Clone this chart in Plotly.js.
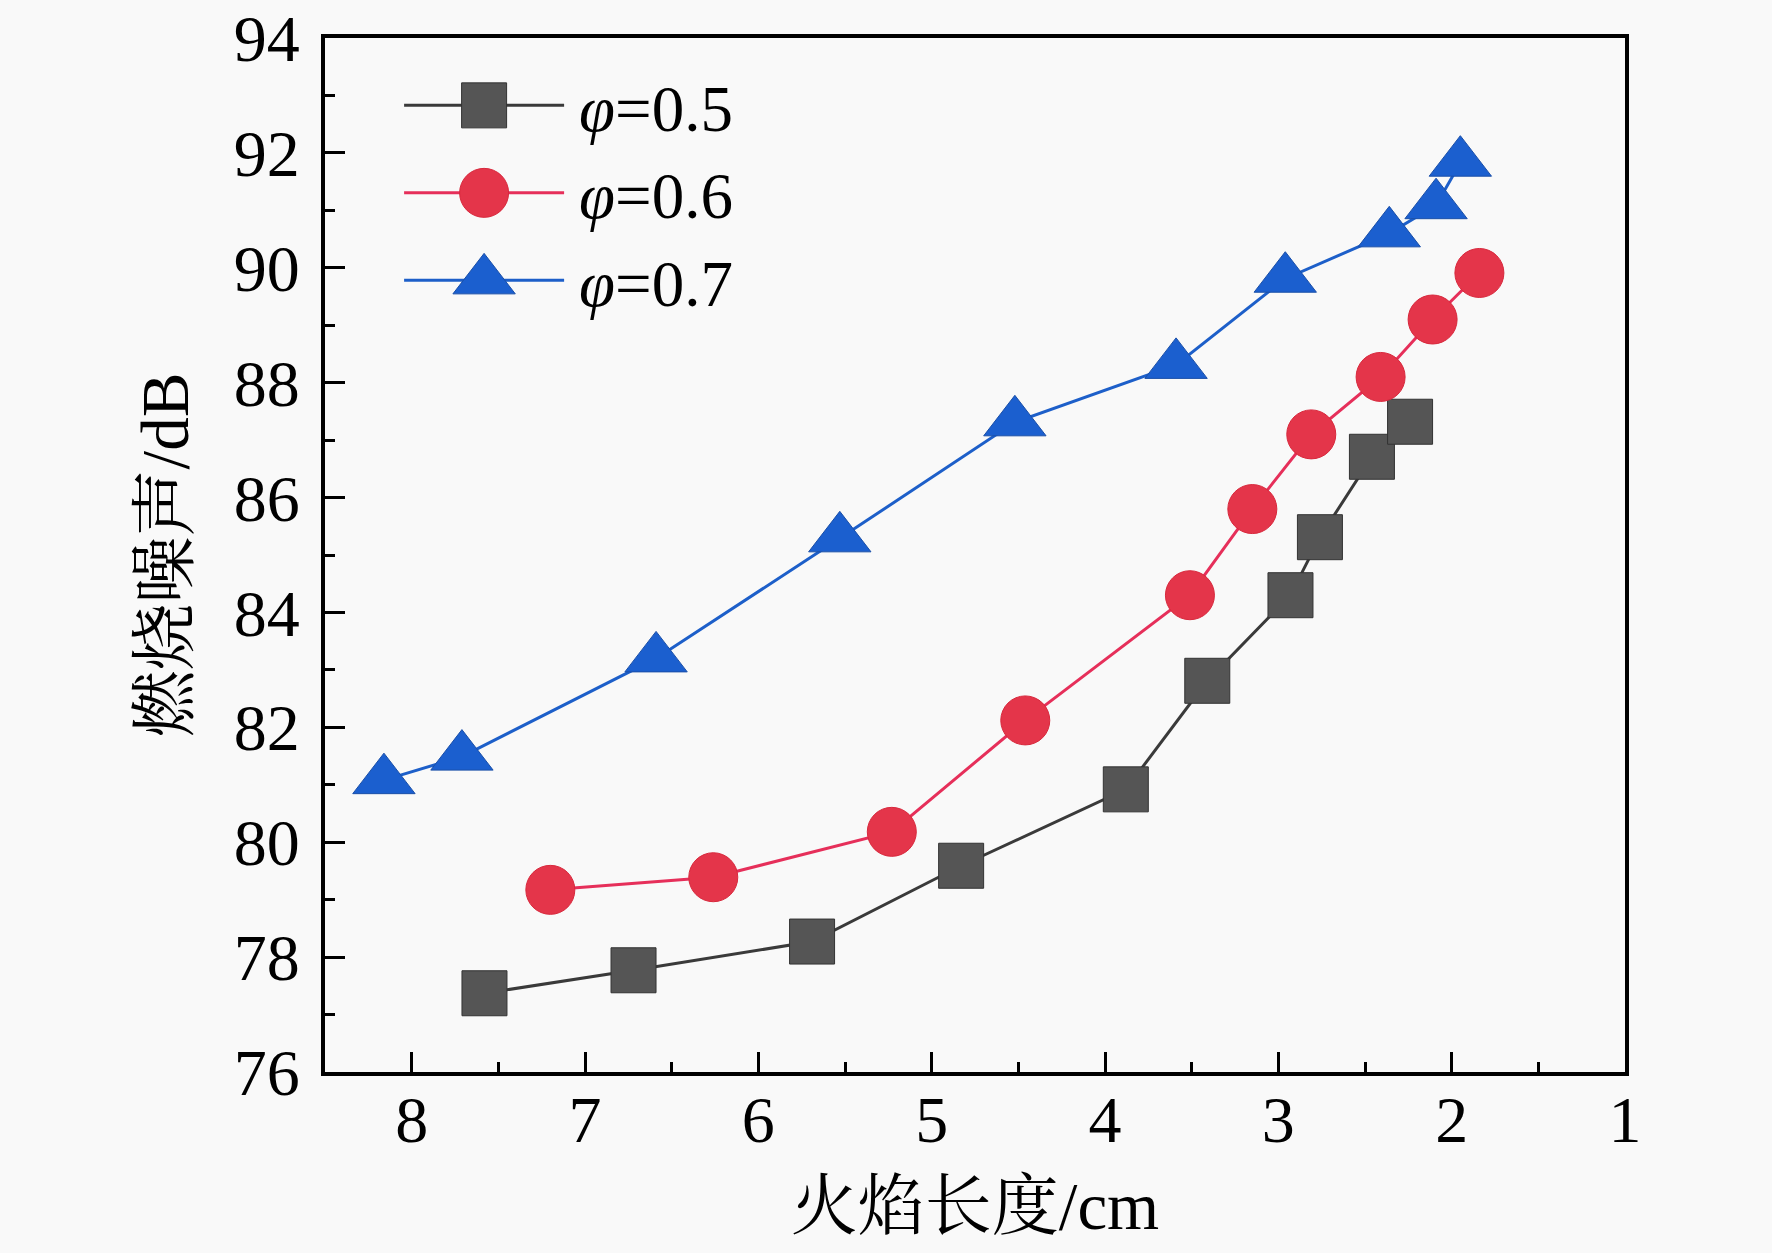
<!DOCTYPE html>
<html>
<head>
<meta charset="utf-8">
<script src="https://cdn.plot.ly/plotly-3.0.1.min.js"></script>
<style>
  html, body { margin: 0; padding: 0; background: #f9f9f9; }
  #graph { width: 1772px; height: 1253px; }
</style>
</head>
<body>
<div id="graph"></div>
<script>
// flame length (cm) vs combustion noise (dB)
const lenPhi05 = [7.58, 6.72, 5.69, 4.83, 3.88, 3.41, 2.93, 2.76, 2.46, 2.24];
const dbPhi05 = [77.37, 77.77, 78.27, 79.59, 80.92, 82.81, 84.3, 85.31, 86.71, 87.32];

const lenPhi06 = [7.20, 6.26, 5.23, 4.46, 3.51, 3.15, 2.81, 2.41, 2.11, 1.84];
const dbPhi06 = [79.17, 79.39, 80.18, 82.12, 84.3, 85.8, 87.1, 88.1, 89.1, 89.91];

const lenPhi07 = [8.16, 7.71, 6.59, 5.53, 4.52, 3.59, 2.96, 2.36, 2.09, 1.95];
const dbPhi07 = [81.08, 81.49, 83.2, 85.29, 87.31, 88.31, 89.81, 90.6, 91.09, 91.83];

const seriesNames = ['<i>φ</i>=0.5', '<i>φ</i>=0.6', '<i>φ</i>=0.7'];
const xTickVals = [8, 7, 6, 5, 4, 3, 2, 1];
const yTickVals = [76, 78, 80, 82, 84, 86, 88, 90, 92, 94];

const serif = 'Liberation Serif, Times New Roman, Noto Serif CJK SC, Noto Sans CJK SC, serif';

function makeTrace(xs, ys, name, symbol, size, fill, lineColor, edge) {
    return {
        x: xs,
        y: ys,
        name: name,
        type: 'scatter',
        mode: 'lines+markers',
        line: { color: lineColor, width: 3 },
        marker: {
            symbol: symbol,
            size: size,
            color: fill,
            line: { color: edge, width: 1 }
        }
    };
}

let traces = [
    makeTrace(lenPhi05, dbPhi05, seriesNames[0], 'square', 45, '#555555', '#3a3a3a', '#333333'),
    makeTrace(lenPhi06, dbPhi06, seriesNames[1], 'circle', 49, '#e4354a', '#e62f5a', '#d8283c'),
    makeTrace(lenPhi07, dbPhi07, seriesNames[2], 'triangle-up', 54, '#1b5fcf', '#1d5fc9', '#1a4fa8')
];

let axisCommon = {
    showline: true,
    linecolor: '#000',
    linewidth: 4,
    mirror: true,
    ticks: 'inside',
    ticklen: 20,
    tickwidth: 3,
    tickcolor: '#000',
    showgrid: false,
    zeroline: false,
    ticklabeloverflow: 'allow',
    tickfont: { family: serif, size: 66, color: '#000' }
};

let layout = {
    width: 1772,
    height: 1253,
    paper_bgcolor: '#f9f9f9',
    plot_bgcolor: '#f9f9f9',
    margin: { l: 325, r: 147, t: 38, b: 181 },
    showlegend: true,
    legend: {
        x: 0.057,
        y: 0.982,
        xanchor: 'left',
        yanchor: 'top',
        bgcolor: 'rgba(0,0,0,0)',
        itemwidth: 170,
        tracegroupgap: 0,
        font: { family: serif, size: 65, color: '#000' }
    },
    xaxis: Object.assign({}, axisCommon, {
        range: [8.5, 1],
        tickmode: 'array',
        tickvals: xTickVals,
        ticktext: xTickVals.map(String),
        ticklabelstandoff: -13,
        minor: { dtick: 0.5, ticks: 'inside', ticklen: 10, tickwidth: 3, tickcolor: '#000' },
        title: {
            text: '火焰长度/cm',
            font: { family: serif, size: 67, color: '#000' },
            standoff: 28
        }
    }),
    yaxis: Object.assign({}, axisCommon, {
        range: [75.999, 94.001],
        tickmode: 'array',
        tickvals: yTickVals,
        ticktext: yTickVals.map(String),
        ticklabelstandoff: 8,
        minor: { dtick: 1, ticks: 'inside', ticklen: 10, tickwidth: 3, tickcolor: '#000' },
        title: {
            text: '燃烧噪声/dB',
            font: { family: serif, size: 67, color: '#000' },
            standoff: 24
        }
    })
};

/** Plotly caps legend symbols at 16px; stretch them to the figure's size. */
function enlargeLegend(gd, itemWidth) {
    let scales = [45 / 16, 49 / 16, 54 / 16];
    let items = gd.querySelectorAll('.legend .traces');
    items.forEach((item, i) => {
        let line = item.querySelector('.legendlines path');
        if (line) {
            line.setAttribute('d', 'M5,0h' + (itemWidth - 10));
            line.style.strokeWidth = '3px';
        }
        let pt = item.querySelector('.legendpoints path.scatterpts');
        if (pt) {
            let k = scales[i] || 2.8;
            pt.setAttribute('transform', `translate(${itemWidth / 2},0) scale(${k})`);
            pt.style.strokeWidth = (1 / k) + 'px';
        }
    });
}

Plotly.newPlot('graph', traces, layout, { staticPlot: true }).then(gd => {
    enlargeLegend(gd, layout.legend.itemwidth);
});
</script>
</body>
</html>
